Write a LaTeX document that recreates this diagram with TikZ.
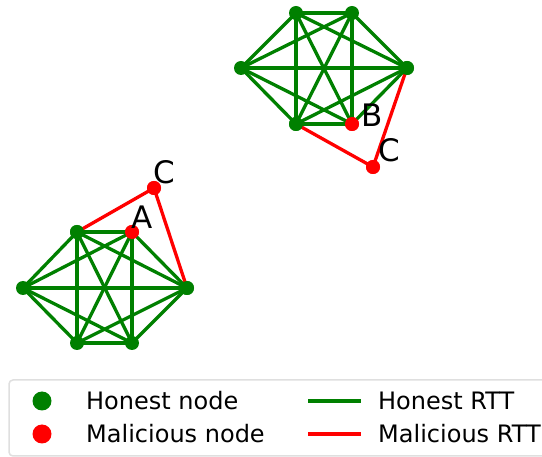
\documentclass[tikz,border=0pt]{standalone}
\usepackage{fontspec}
\setmainfont{DejaVu Sans}
\begin{document}
\begin{tikzpicture}[x=1pt,y=-1pt,
  hon/.style={circle,fill=green!50!black,inner sep=0pt,minimum size=14pt},
  mal/.style={circle,fill=red,inner sep=0pt,minimum size=14pt},
  hedge/.style={draw=green!50!black,line width=3.3pt},
  medge/.style={draw=red,line width=3.3pt},
  lab/.style={font=\fontsize{31}{34}\selectfont,inner sep=0pt},
  legtext/.style={font=\fontsize{24}{27}\selectfont,anchor=west,inner sep=0pt}]
\useasboundingbox (0,0) rectangle (542,457);
% cluster 1
\node[hon] (a1) at (77,232) {};
\node[mal] (a2) at (132,232) {};
\node[hon] (a3) at (23,288) {};
\node[hon] (a4) at (187,288) {};
\node[hon] (a5) at (77,343) {};
\node[hon] (a6) at (132,343) {};
\node[mal] (c1) at (154,188) {};
\foreach \i/\j in {a1/a2,a1/a3,a1/a4,a1/a5,a1/a6,a2/a3,a2/a4,a2/a5,a2/a6,a3/a4,a3/a5,a3/a6,a4/a5,a4/a6,a5/a6}
  \draw[hedge] (\i.center) -- (\j.center);
\draw[medge] (a1.center) -- (c1.center) -- (a4.center);
\node[hon] at (a1) {};
\node[mal] at (a2) {};
\node[hon] at (a4) {};
\node[mal] at (c1) {};
\node[lab] (la) at (142.5,217.5) {A};
\node[lab] (lc1) at (164.5,172) {C};
% cluster 2
\node[hon] (b1) at (296,13) {};
\node[hon] (b2) at (352,13) {};
\node[hon] (b3) at (241,68) {};
\node[hon] (b4) at (407,68) {};
\node[hon] (b5) at (296,124) {};
\node[mal] (b6) at (352,124) {};
\node[mal] (c2) at (373,167) {};
\foreach \i/\j in {b1/b2,b1/b3,b1/b4,b1/b5,b1/b6,b2/b3,b2/b4,b2/b5,b2/b6,b3/b4,b3/b5,b3/b6,b4/b5,b4/b6,b5/b6}
  \draw[hedge] (\i.center) -- (\j.center);
\draw[medge] (b5.center) -- (c2.center) -- (b4.center);
\node[hon] at (b5) {};
\node[mal] at (b6) {};
\node[hon] at (b4) {};
\node[mal] at (c2) {};
\node[lab] (lb) at (372.5,115) {B};
\node[lab] (lc2) at (389.5,150) {C};
% legend
\draw[gray!25,line width=1.5pt,rounded corners=4pt,fill=white] (9,380) rectangle (550,456);
\node[hon,minimum size=19pt] (lg1) at (42,401) {};
\node[mal,minimum size=19pt] (lg2) at (42,434) {};
\node[legtext] (t1) at (86,401) {Honest node};
\node[legtext] (t2) at (86,434) {Malicious node};
\coordinate (h1) at (308,401); \coordinate (h2) at (361,401);
\coordinate (m1) at (308,434); \coordinate (m2) at (361,434);
\draw[hedge,line width=4pt] (h1) -- (h2);
\draw[medge,line width=4pt] (m1) -- (m2);
\node[legtext] (t3) at (378,401) {Honest RTT};
\node[legtext] (t4) at (378,434) {Malicious RTT};
\end{tikzpicture}
\end{document}
